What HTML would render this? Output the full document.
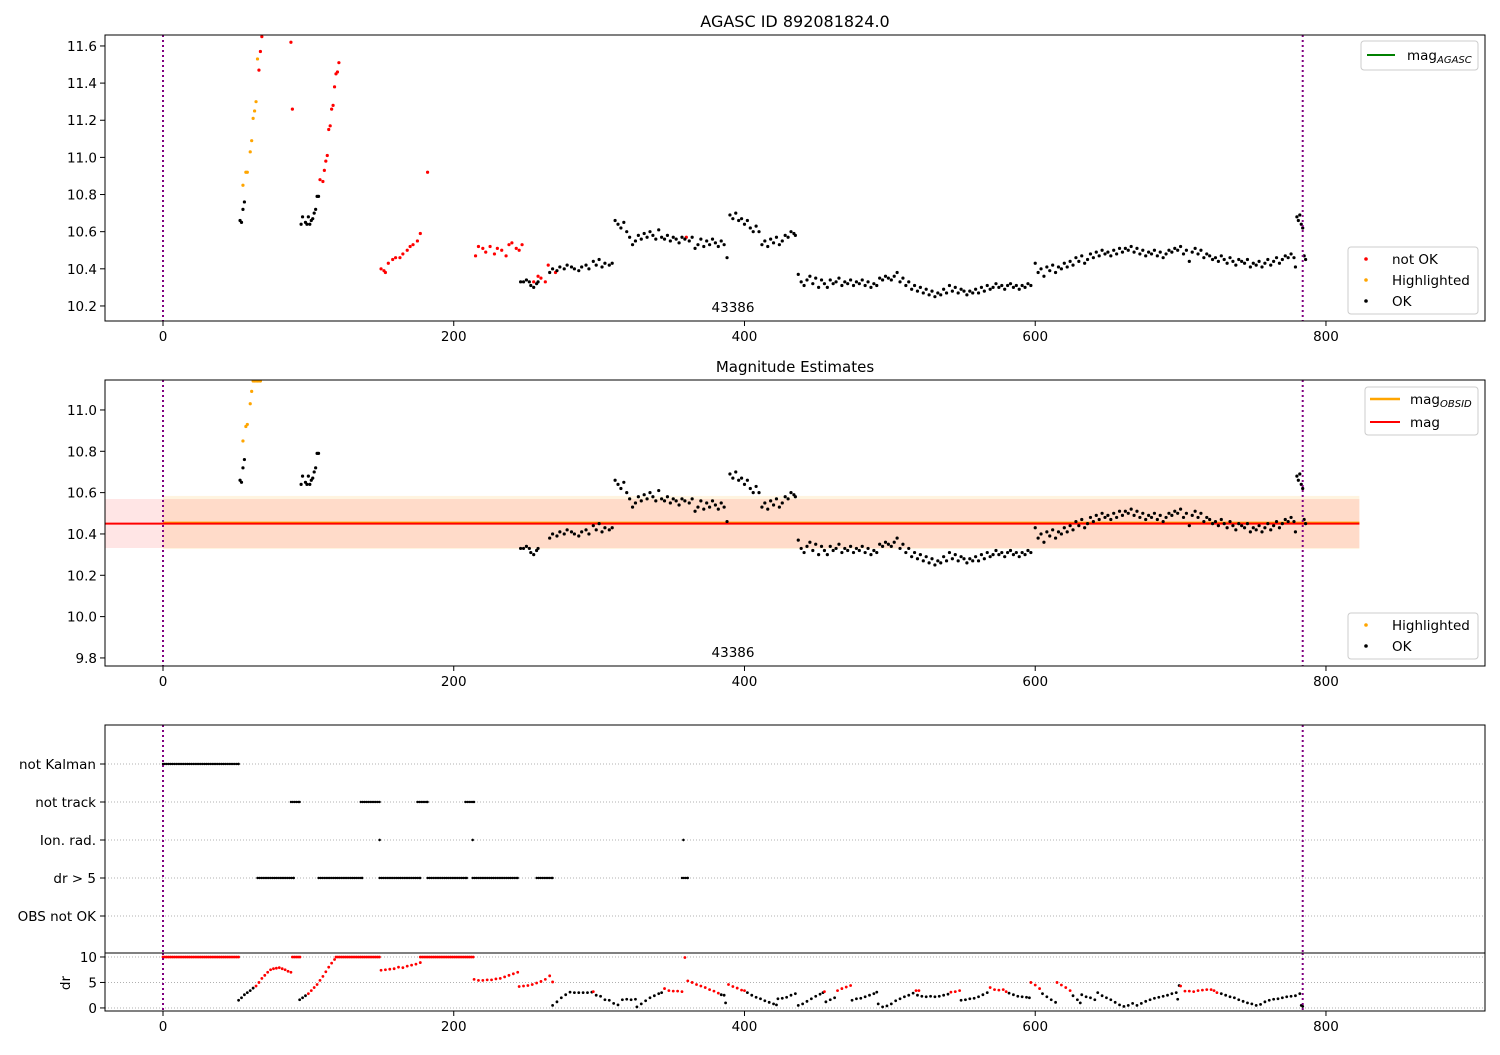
<!DOCTYPE html>
<html><head><meta charset="utf-8"><style>
html,body{margin:0;padding:0;background:#fff;}
svg text{font-family:"DejaVu Sans","Liberation Sans",sans-serif;}
</style></head><body>
<svg id="chart" width="1500" height="1050" xmlns="http://www.w3.org/2000/svg">
<rect width="1500" height="1050" fill="#fff"/>
</svg>
<script>
// ---------- DATA ----------
const xTicks = [0,200,400,600,800];
const magTicks1 = [10.2,10.4,10.6,10.8,11.0,11.2,11.4,11.6];
const magTicks2 = [9.8,10.0,10.2,10.4,10.6,10.8,11.0];
const drTicks = [0,5,10];
const categories = ["not Kalman","not track","Ion. rad.","dr > 5","OBS not OK"];
const obsBounds = [0,784];
const obsidLabel = "43386";
const magMean = 10.45, magLow = 10.332, magHigh = 10.569;
const obsMean = 10.455, obsLow = 10.327, obsHigh = 10.584, bandEnd = 823;

const okX = [53,54,55,56,95,96,98,99,100,101,102,103,104,105,106,107,246,248,250,252,253,255,257,258,266,268,271,273,276,278,281,283,286,288,291,293,296,298,300,302,304,307,309,311,313,315,317,319,321,323,325,327,329,331,333,335,337,339,341,343,345,347,349,351,353,355,357,359,362,364,366,368,370,372,374,376,378,380,382,384,386,388,390,392,394,396,398,400,402,404,406,408,410,412,414,416,418,420,422,424,426,428,430,432,434,435,437,439,441,443,445,447,449,451,453,455,457,459,461,463,465,467,469,471,473,475,477,479,481,483,485,487,489,491,493,495,497,499,501,503,505,507,509,511,513,515,517,519,521,523,525,527,529,531,533,535,537,539,541,543,545,547,549,551,553,555,557,559,561,563,565,567,569,571,573,575,577,579,581,583,585,587,589,591,593,595,597,600,602,604,606,608,610,612,614,616,618,620,622,624,626,628,630,632,634,636,638,640,642,644,646,648,650,652,654,656,658,660,662,664,666,668,670,672,674,676,678,680,682,684,686,688,690,692,694,696,698,700,702,704,706,708,710,712,714,716,718,720,722,724,726,728,730,732,734,736,738,740,742,744,746,748,750,752,754,756,758,760,762,764,766,768,770,772,774,776,778,779,780,781,782,783,784,785,786];
const okMag = [10.66,10.65,10.72,10.76,10.64,10.68,10.65,10.64,10.68,10.64,10.66,10.67,10.70,10.72,10.79,10.79,10.33,10.33,10.34,10.33,10.31,10.30,10.32,10.33,10.38,10.40,10.39,10.41,10.40,10.42,10.41,10.40,10.39,10.41,10.42,10.40,10.44,10.42,10.45,10.41,10.43,10.42,10.43,10.66,10.64,10.62,10.65,10.60,10.57,10.53,10.55,10.58,10.56,10.59,10.57,10.60,10.58,10.56,10.61,10.57,10.56,10.58,10.55,10.57,10.56,10.54,10.57,10.56,10.55,10.57,10.51,10.53,10.56,10.52,10.55,10.53,10.56,10.54,10.52,10.55,10.53,10.46,10.69,10.67,10.70,10.66,10.67,10.64,10.66,10.62,10.60,10.63,10.60,10.53,10.55,10.52,10.56,10.54,10.57,10.53,10.55,10.58,10.57,10.60,10.59,10.58,10.37,10.33,10.31,10.34,10.36,10.32,10.35,10.30,10.34,10.32,10.30,10.34,10.32,10.33,10.35,10.31,10.33,10.32,10.34,10.31,10.33,10.32,10.34,10.31,10.33,10.30,10.32,10.31,10.35,10.34,10.36,10.35,10.34,10.36,10.38,10.33,10.35,10.31,10.33,10.29,10.31,10.28,10.30,10.27,10.29,10.26,10.28,10.25,10.27,10.26,10.29,10.27,10.31,10.28,10.30,10.27,10.29,10.28,10.26,10.28,10.27,10.29,10.27,10.30,10.28,10.31,10.29,10.30,10.32,10.30,10.31,10.29,10.31,10.32,10.30,10.31,10.29,10.31,10.30,10.32,10.31,10.43,10.38,10.40,10.36,10.41,10.39,10.42,10.38,10.41,10.40,10.43,10.41,10.44,10.42,10.46,10.44,10.47,10.43,10.45,10.48,10.46,10.49,10.47,10.50,10.48,10.49,10.47,10.50,10.48,10.51,10.49,10.51,10.50,10.52,10.49,10.51,10.48,10.50,10.47,10.49,10.48,10.50,10.47,10.49,10.46,10.48,10.50,10.49,10.51,10.50,10.52,10.48,10.50,10.44,10.49,10.51,10.48,10.50,10.46,10.48,10.47,10.45,10.46,10.44,10.47,10.45,10.43,10.46,10.44,10.42,10.45,10.44,10.43,10.45,10.41,10.43,10.42,10.44,10.41,10.43,10.45,10.42,10.44,10.46,10.43,10.45,10.47,10.46,10.48,10.46,10.41,10.68,10.66,10.69,10.64,10.62,10.47,10.45];

const hlX1 = [55,57,58,60,61,62,63,64,65];
const hlMag1 = [10.85,10.92,10.92,11.03,11.09,11.21,11.25,11.30,11.53];
const hlX2 = [55,57,58,60,61,62,63,64,65,66,67];
const hlMag2 = [10.85,10.92,10.93,11.03,11.09,11.14,11.14,11.14,11.14,11.14,11.14];

const badX = [66,67,68,88,89,108,110,111,112,113,114,115,116,117,118,119,120,121,150,152,153,155,158,160,163,165,168,170,172,175,177,182,215,217,220,222,225,228,230,233,236,238,240,243,245,247,255,258,260,263,265,270,360];
const badMag = [11.47,11.57,11.65,11.62,11.26,10.88,10.87,10.93,10.98,11.01,11.15,11.17,11.26,11.28,11.38,11.45,11.46,11.51,10.40,10.39,10.38,10.43,10.45,10.46,10.46,10.48,10.50,10.52,10.53,10.55,10.59,10.92,10.47,10.52,10.51,10.49,10.52,10.48,10.51,10.50,10.47,10.53,10.54,10.51,10.50,10.53,10.33,10.36,10.35,10.33,10.42,10.38,10.57];

const notKalman = [[0,52]];
const notTrack = [[88,94],[136,149],[175,182],[208,214]];
const ionRad = [[149,149],[213,213],[358,358]];
const drGt5 = [[65,90],[107,137],[149,177],[182,209],[213,244],[257,268],[357,361]];
const obsNotOk = [];
const drSat = [[0,52],[89,95],[119,150],[177,214]];

const drX = [52,54,56,58,60,62,64,66,68,70,72,74,76,78,80,82,84,86,88,94,96,98,100,102,104,106,108,110,112,114,116,118,150,153,156,159,162,165,168,171,174,177,214,217,220,223,226,229,232,235,238,241,244,245,248,251,254,257,260,263,266,268,268,271,274,277,280,283,286,289,292,295,296,298,301,304,307,310,313,316,319,322,325,326,329,332,335,338,341,343,345,348,351,354,357,359,361,364,367,370,373,376,379,382,384,386,387,389,392,395,398,400,402,405,408,411,414,417,420,422,423,426,429,432,435,437,440,443,446,449,452,454,455,456,459,462,464,467,470,473,474,477,480,483,486,489,491,492,495,498,501,504,507,510,513,516,518,520,519,522,525,528,531,534,537,540,542,545,548,549,552,555,558,561,564,567,569,572,575,578,580,582,585,588,591,594,596,597,600,603,605,608,611,614,615,618,621,624,626,629,631,632,635,638,641,643,646,649,652,655,658,661,664,667,670,673,676,679,682,685,688,691,694,697,698,699,700,703,706,709,712,715,718,721,723,725,728,731,734,737,740,743,746,749,752,755,758,761,764,767,770,773,776,779,782,783,784];
const drVal = [1.5,2.0,2.6,3.0,3.4,3.9,4.3,5.0,5.8,6.4,7.0,7.5,7.7,7.8,7.9,7.7,7.5,7.2,7.0,1.6,2.0,2.4,2.8,3.4,4.0,4.6,5.4,6.2,7.1,8.0,8.8,9.5,7.4,7.5,7.6,7.7,8.0,7.9,8.2,8.4,8.6,8.9,5.6,5.4,5.4,5.5,5.5,5.7,5.8,6.1,6.4,6.7,7.0,4.2,4.3,4.4,4.6,4.9,5.2,5.6,6.3,5.1,0.5,1.2,2.0,2.6,3.1,3.0,3.0,3.0,3.0,3.1,3.2,2.5,2.3,1.6,1.5,0.9,0.6,1.6,1.7,1.6,1.7,0.2,0.8,1.4,2.0,2.4,2.8,3.0,3.8,3.4,3.3,3.3,3.2,9.9,5.3,5.0,4.6,4.3,4.0,3.6,3.3,2.9,2.6,2.5,1.0,4.6,4.2,3.9,3.5,3.4,3.0,2.5,2.1,1.8,1.4,1.1,0.8,0.6,1.8,1.9,2.1,2.5,2.8,0.5,0.8,1.3,1.8,2.3,2.7,3.0,3.2,1.2,1.6,2.0,3.4,3.8,4.1,4.4,1.5,1.8,1.9,2.2,2.5,2.8,3.1,0.8,0.2,0.4,0.8,1.4,1.8,2.2,2.5,2.9,3.4,3.4,2.5,2.3,2.2,2.3,2.2,2.3,2.5,2.7,3.1,3.2,3.4,1.5,1.6,1.8,1.9,2.2,2.6,3.0,4.0,3.6,3.5,3.6,3.2,2.9,2.6,2.3,2.2,2.1,2.0,5.0,4.5,3.8,2.8,2.2,1.6,1.1,5.0,4.5,4.0,3.4,2.4,1.6,1.0,2.6,2.2,2.0,1.6,3.0,2.4,2.0,1.6,1.1,0.6,0.3,0.5,0.9,0.5,0.9,1.3,1.6,1.9,2.1,2.3,2.5,2.8,3.0,1.7,4.4,4.3,3.3,3.3,3.2,3.4,3.5,3.6,3.6,3.4,3.0,2.8,2.5,2.2,2.0,1.6,1.3,1.0,0.8,0.5,0.7,1.2,1.5,1.7,1.8,2.0,2.2,2.3,2.4,2.8,0.5,0.3];
const drBad = [0,0,0,0,0,0,1,1,1,1,1,1,1,1,1,1,1,1,1,0,0,0,1,1,1,1,1,1,1,1,1,1,1,1,1,1,1,1,1,1,1,1,1,1,1,1,1,1,1,1,1,1,1,1,1,1,1,1,1,1,1,1,0,0,0,0,0,0,0,0,0,0,1,0,0,0,0,0,0,0,0,0,0,0,0,0,0,0,0,0,1,1,1,1,1,1,1,1,1,1,1,1,1,1,0,0,0,1,1,1,1,1,0,0,0,0,0,0,0,0,0,0,0,0,0,0,0,0,0,0,0,0,1,0,0,0,1,1,1,1,0,0,0,0,0,0,0,0,0,0,0,0,0,0,0,0,1,1,0,0,0,0,0,0,0,0,1,1,1,0,0,0,0,0,0,0,1,1,1,1,1,0,0,0,0,0,0,1,1,1,0,0,0,0,1,1,1,1,0,0,0,0,0,0,0,0,0,0,0,0,0,0,0,0,0,0,0,0,0,0,0,0,0,0,0,0,1,1,1,1,1,1,1,1,1,1,0,0,0,0,0,0,0,0,0,0,0,0,0,0,0,0,0,0,0,0,0,0];

// ---------- GEOMETRY ----------
const L = 105, R = 1485;
const X0 = -39.9, X1 = 909.4;
const P1 = {top:35, bot:321, min:10.119, max:11.659};
const P2 = {top:380, bot:666, min:9.761, max:11.145};
const P3 = {top:725, bot:953};
const P4 = {top:953, bot:1011, min:-0.6, max:10.78};
const catY = [764,802,840,878,916];

const NS = "http://www.w3.org/2000/svg";
const svg = document.getElementById('chart');
function sx(x){ return L + (x - X0) / (X1 - X0) * (R - L); }
function syP(p, v){ return p.bot - (v - p.min) / (p.max - p.min) * (p.bot - p.top); }
function el(tag, attrs, parent){
  const e = document.createElementNS(NS, tag);
  for (const k in attrs) e.setAttribute(k, attrs[k]);
  (parent || svg).appendChild(e);
  return e;
}
function txt(s, x, y, anchor, size, parent){
  const t = el('text', {x:x, y:y, 'text-anchor':anchor, 'font-size':size, fill:'#000'}, parent);
  t.textContent = s;
  return t;
}
function dot(g, x, y, color, r){ return el('circle', {cx:x, cy:y, r:r||1.6, fill:color}, g); }

function clipFor(id, p){
  const c = el('clipPath', {id:id});
  el('rect', {x:L, y:p.top, width:R-L, height:p.bot-p.top}, c);
}
clipFor('c1', P1); clipFor('c2', P2); clipFor('c3', P3); clipFor('c4', P4);

function xAxis(p, name){
  const g = el('g', {});
  
  
  xTicks.forEach(t => {
    const x = sx(t);
    el('line', {x1:x, x2:x, y1:p.bot, y2:p.bot+5, stroke:'#000', 'stroke-width':1}, g);
    txt(String(t), x, p.bot+20, 'middle', 13.5, g);
  });
}
function yAxis(p, ticks, name, fmt){
  const g = el('g', {});
  
  
  ticks.forEach(t => {
    const y = syP(p, t);
    el('line', {x1:L-5, x2:L, y1:y, y2:y, stroke:'#000', 'stroke-width':1}, g);
    txt(fmt(t), L-8, y+5, 'end', 13.5, g);
  });
}
function frame(p, name){
  const r = el('rect', {x:L, y:p.top, width:R-L, height:p.bot-p.top, fill:'none', stroke:'#000', 'stroke-width':1});
  
  
}
function vlines(p, clip){
  const g = el('g', {'clip-path':'url(#'+clip+')'});
  
  
  obsBounds.forEach(b => el('line', {x1:sx(b), x2:sx(b), y1:p.top, y2:p.bot, stroke:'#800080', 'stroke-width':2, 'stroke-dasharray':'2,3'}, g));
}
function scatter(p, xs, ys, color, clip, name){
  const g = el('g', {'clip-path':'url(#'+clip+')'});
  
  
  xs.forEach((x, i) => dot(g, sx(x), syP(p, ys[i]), color));
}
function legendBox(x, y, w, h, name){
  const g = el('g', {});
  
  
  el('rect', {x:x, y:y, width:w, height:h, rx:3, fill:'#fff', 'fill-opacity':0.85, stroke:'#ccc'}, g);
  return g;
}

// ---------- PANEL 1 ----------
const t1 = txt('AGASC ID 892081824.0', (L+R)/2, 27, 'middle', 16);


scatter(P1, badX, badMag, '#ff0000', 'c1', 'not-ok-points-top');
scatter(P1, hlX1, hlMag1, '#ffa500', 'c1', 'highlighted-points-top');
scatter(P1, okX, okMag, '#000000', 'c1', 'ok-points-top');
vlines(P1, 'c1');
frame(P1, 'top-axes-frame');
xAxis(P1, 'top-x-axis');
yAxis(P1, magTicks1, 'top-y-axis', v => v.toFixed(1));
const o1 = txt(obsidLabel, 733, 312, 'middle', 13.5);


{
  const g = legendBox(1361, 41, 117, 29, 'legend-agasc');
  el('line', {x1:1367, x2:1395, y1:55, y2:55, stroke:'#008000', 'stroke-width':2}, g);
  const t = txt('mag', 1407, 60, 'start', 13.5, g);
  const s = el('tspan', {'font-size':10, 'font-style':'italic', dy:3}, t); s.textContent = 'AGASC';
}
{
  const g = legendBox(1348, 247, 130, 67, 'legend-status-top');
  const labels = ['not OK','Highlighted','OK'], cols = ['#ff0000','#ffa500','#000'];
  labels.forEach((lab, i) => {
    dot(g, 1366, 259+i*21, cols[i], 1.8);
    txt(lab, 1392, 264+i*21, 'start', 13.5, g);
  });
}

// ---------- PANEL 2 ----------
const t2 = txt('Magnitude Estimates', (L+R)/2, 372, 'middle', 15);


{
  const g = el('g', {'clip-path':'url(#c2)'});
  
  
  el('rect', {x:sx(0), y:syP(P2, obsHigh), width:sx(bandEnd)-sx(0), height:syP(P2, obsLow)-syP(P2, obsHigh), fill:'#ffa500', 'fill-opacity':0.12}, g);
  el('rect', {x:L, y:syP(P2, magHigh), width:sx(bandEnd)-L, height:syP(P2, magLow)-syP(P2, magHigh), fill:'#ff0000', 'fill-opacity':0.1}, g);
  el('line', {x1:sx(0), x2:sx(bandEnd), y1:syP(P2, obsMean), y2:syP(P2, obsMean), stroke:'#ffa500', 'stroke-width':2}, g);
  el('line', {x1:L, x2:sx(bandEnd), y1:syP(P2, magMean), y2:syP(P2, magMean), stroke:'#ff0000', 'stroke-width':2}, g);
}
scatter(P2, hlX2, hlMag2, '#ffa500', 'c2', 'highlighted-points-mid');
scatter(P2, okX, okMag, '#000000', 'c2', 'ok-points-mid');
vlines(P2, 'c2');
frame(P2, 'mid-axes-frame');
xAxis(P2, 'mid-x-axis');
yAxis(P2, magTicks2, 'mid-y-axis', v => v.toFixed(1));
const o2 = txt(obsidLabel, 733, 657, 'middle', 13.5);


{
  const g = legendBox(1365, 387, 113, 48, 'legend-magnitudes');
  el('line', {x1:1370, x2:1400, y1:399, y2:399, stroke:'#ffa500', 'stroke-width':2.5}, g);
  const t = txt('mag', 1410, 404, 'start', 13.5, g);
  const s = el('tspan', {'font-size':10, 'font-style':'italic', dy:3}, t); s.textContent = 'OBSID';
  el('line', {x1:1370, x2:1400, y1:422, y2:422, stroke:'#ff0000', 'stroke-width':2}, g);
  txt('mag', 1410, 427, 'start', 13.5, g);
}
{
  const g = legendBox(1348, 613, 130, 46, 'legend-status-mid');
  dot(g, 1366, 625, '#ffa500', 1.8); txt('Highlighted', 1392, 630, 'start', 13.5, g);
  dot(g, 1366, 646, '#000', 1.8); txt('OK', 1392, 651, 'start', 13.5, g);
}

// ---------- PANEL 3 (flags) ----------
{
  const g = el('g', {});
  
  
  catY.forEach(y => el('line', {x1:L, x2:R, y1:y, y2:y, stroke:'#b0b0b0', 'stroke-width':1, 'stroke-dasharray':'1,2'}, g));
  drTicks.forEach(t => { const y = syP(P4, t); el('line', {x1:L, x2:R, y1:y, y2:y, stroke:'#b0b0b0', 'stroke-width':1, 'stroke-dasharray':'1,2'}, g); });
}
const flagRows = [notKalman, notTrack, ionRad, drGt5, obsNotOk];
{
  const g = el('g', {'clip-path':'url(#c3)'});
  
  
  flagRows.forEach((ranges, i) => {
    ranges.forEach(rg => {
      for (let x = rg[0]; x <= rg[1]; x += 1.3) dot(g, sx(x), catY[i], '#000', 1.2);
      dot(g, sx(rg[1]), catY[i], '#000', 1.2);
    });
  });
}
{
  const g = el('g', {});
  
  
  categories.forEach((c, i) => {
    el('line', {x1:L-5, x2:L, y1:catY[i], y2:catY[i], stroke:'#000'}, g);
    txt(c, L-9, catY[i]+5, 'end', 13.5, g);
  });
}
vlines(P3, 'c3');
frame(P3, 'flags-axes-frame');

// ---------- PANEL 4 (dr) ----------
{
  const g = el('g', {'clip-path':'url(#c4)'});
  
  
  drSat.forEach(rg => {
    for (let x = rg[0]; x <= rg[1]; x += 1.3) dot(g, sx(x), syP(P4, 10), '#ff0000', 1.4);
  });
  drX.forEach((x, i) => dot(g, sx(x), syP(P4, drVal[i]), drBad[i] ? '#ff0000' : '#000', 1.4));
}
vlines(P4, 'c4');
frame(P4, 'dr-axes-frame');
xAxis(P4, 'dr-x-axis');
yAxis(P4, drTicks, 'dr-y-axis', v => String(v));
{
  const t = txt('dr', 70, 983, 'middle', 13.5);
  t.setAttribute('transform', 'rotate(-90 70 983)');
  
  
}
</script>
</body></html>
